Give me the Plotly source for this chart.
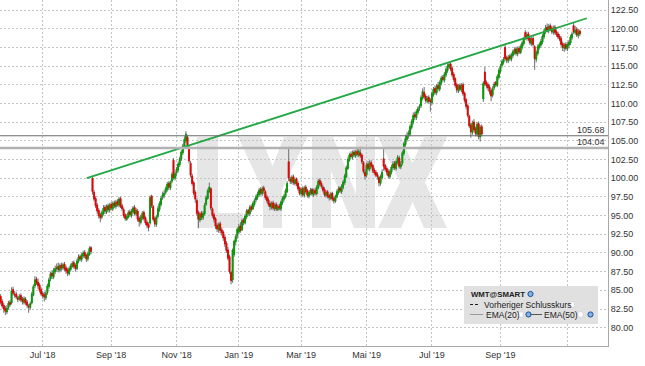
import plotly.graph_objects as go
import pandas as pd

# ---------------- data ----------------
start_date = "2018-05-23"
market_holidays = ["2018-05-28", "2018-07-04", "2018-09-03", "2018-11-22", "2018-12-05",
                   "2018-12-25", "2019-01-01", "2019-01-21", "2019-02-18", "2019-04-19",
                   "2019-05-27", "2019-07-04", "2019-09-02"]

open_ = [
    84.2, 83.5, 83.0, 82.6, 82.1, 82.7, 83.4, 83.3, 85.1, 84.5,
    84.5, 84.0, 83.8, 84.3, 83.8, 83.4, 83.8, 83.4, 82.9, 82.7,
    83.3, 84.4, 85.6, 86.5, 86.1, 85.7, 85.1, 84.6, 84.4, 84.0,
    84.7, 85.5, 86.5, 87.3, 86.8, 87.5, 87.9, 88.2, 87.7, 88.4,
    88.0, 88.5, 88.0, 87.7, 87.2, 87.8, 88.2, 88.7, 88.3, 87.9,
    88.9, 89.5, 89.1, 89.6, 90.1, 89.7, 89.2, 89.8, 90.7, 100.0,
    98.1, 97.3, 96.4, 95.7, 95.1, 94.8, 95.3, 96.1, 95.5, 96.3,
    95.7, 96.5, 95.9, 96.7, 96.2, 96.9, 96.4, 97.3, 96.3, 95.8,
    95.1, 94.5, 94.8, 95.5, 95.0, 95.5, 96.1, 95.2, 95.6, 94.6,
    94.1, 94.7, 95.4, 94.7, 94.1, 93.8, 94.0, 97.6, 96.2, 94.6,
    93.8, 94.9, 95.8, 96.5, 97.4, 97.7, 98.1, 98.5, 99.3, 98.7,
    99.6, 102.4, 100.0, 100.7, 101.1, 101.8, 102.6, 103.4, 104.2, 105.0,
    105.5, 104.0, 102.0, 100.3, 99.4, 98.1, 97.0, 95.4, 94.4, 95.3,
    94.7, 95.2, 96.5, 97.3, 98.2, 98.6, 95.9, 95.1, 94.6, 93.7,
    93.1, 93.9, 93.1, 92.8, 92.1, 91.3, 90.4, 89.5, 87.4, 86.4,
    89.8, 91.5, 92.3, 92.8, 93.6, 93.1, 94.4, 94.0, 94.8, 95.7,
    95.2, 96.2, 95.9, 96.5, 97.1, 97.4, 97.8, 98.5, 97.9, 98.7,
    98.2, 97.5, 97.1, 96.6, 96.1, 96.7, 95.9, 96.5, 95.8, 96.3,
    95.9, 96.7, 97.2, 97.5, 98.2, 102.2, 99.9, 99.5, 100.2, 99.3,
    99.9, 99.3, 98.7, 97.9, 98.6, 97.7, 98.8, 98.3, 97.6, 98.0,
    98.5, 97.8, 98.4, 97.9, 98.7, 99.7, 99.3, 98.8, 98.5, 97.7,
    98.2, 97.7, 97.3, 98.0, 97.3, 96.9, 97.5, 98.1, 98.7, 98.2,
    98.8, 99.4, 100.2, 101.3, 102.4, 103.2, 102.8, 103.5, 103.0, 103.6,
    103.1, 103.4, 103.1, 102.1, 100.8, 100.4, 101.9, 101.2, 102.1, 101.7,
    101.1, 100.8, 100.5, 100.1, 99.3, 100.1, 102.6, 101.7, 101.3, 100.9,
    100.2, 100.8, 101.4, 102.0, 101.3, 102.1, 102.7, 101.5, 102.0, 103.3,
    104.5, 105.2, 105.7, 105.9, 106.8, 107.5, 108.5, 108.1, 108.8, 109.4,
    109.7, 110.7, 111.5, 111.0, 110.3, 110.8, 110.4, 110.1, 111.2, 112.0,
    111.4, 112.4, 111.9, 112.7, 113.5, 113.1, 113.8, 114.4, 114.9, 115.3,
    114.7, 113.9, 113.3, 112.5, 111.7, 112.4, 111.8, 112.5, 111.4, 110.5,
    109.7, 108.3, 107.1, 106.1, 107.5, 106.6, 105.9, 107.3, 105.5, 106.9,
    110.6, 114.2, 112.8, 112.5, 112.2, 111.7, 111.1, 112.1, 112.8, 112.4,
    113.5, 114.3, 115.1, 115.5, 117.5, 116.1, 115.7, 116.3, 115.9, 116.4,
    116.8, 117.3, 116.6, 117.4, 116.8, 117.5, 118.0, 119.5, 118.7, 119.3,
    118.7, 118.0, 118.7, 117.6, 115.9, 116.7, 117.5, 117.8, 118.2, 118.9,
    119.6, 120.2, 119.7, 120.4, 120.1, 119.5, 120.2, 119.6, 119.3, 119.0,
    118.7, 118.0, 117.4, 117.9, 117.3, 117.8, 118.1, 118.8, 120.4, 119.5,
    119.9, 119.1, 119.7,
]

high = [
    84.5, 83.8, 83.3, 82.9, 83.0, 83.6, 83.7, 85.4, 85.5, 84.9,
    84.8, 84.3, 84.5, 84.6, 84.1, 84.2, 84.1, 83.7, 83.2, 83.5,
    84.8, 85.8, 86.9, 86.8, 86.6, 86.0, 85.4, 84.9, 84.8, 84.9,
    85.9, 86.7, 87.5, 87.7, 88.0, 88.3, 88.6, 88.7, 88.6, 88.7,
    88.7, 88.8, 88.3, 88.0, 88.2, 88.6, 88.9, 89.0, 88.6, 89.2,
    89.8, 89.8, 90.0, 90.3, 90.4, 89.9, 90.2, 90.9, 90.9, 100.2,
    98.4, 97.6, 96.7, 96.0, 95.4, 95.7, 96.4, 96.4, 96.5, 96.6,
    96.7, 96.8, 96.9, 97.0, 97.1, 97.2, 97.5, 97.5, 96.6, 96.1,
    95.3, 95.2, 95.7, 95.8, 95.9, 96.3, 96.4, 96.0, 95.9, 94.9,
    95.1, 95.6, 95.7, 94.9, 94.4, 94.1, 97.7, 97.8, 96.4, 94.9,
    95.1, 96.3, 96.9, 97.6, 98.2, 98.4, 98.9, 99.5, 99.6, 99.7,
    100.8, 102.7, 100.9, 101.5, 102.2, 102.9, 103.8, 104.6, 105.6, 106.3,
    105.8, 104.4, 102.3, 100.6, 99.7, 98.4, 97.3, 95.7, 95.5, 95.6,
    95.6, 96.7, 97.7, 98.6, 99.4, 98.8, 96.1, 95.4, 94.8, 94.0,
    94.1, 94.2, 93.4, 93.0, 92.4, 91.6, 90.8, 89.8, 87.6, 90.6,
    91.8, 92.5, 93.4, 93.9, 94.1, 94.6, 94.7, 95.2, 95.9, 95.9,
    96.4, 96.5, 96.9, 97.3, 97.8, 98.2, 98.7, 98.8, 98.9, 99.0,
    98.4, 97.8, 97.4, 96.9, 96.9, 97.0, 96.7, 96.8, 96.5, 96.6,
    97.0, 97.6, 97.9, 98.6, 99.6, 104.2, 100.2, 100.4, 100.5, 100.1,
    100.1, 99.6, 98.9, 98.8, 98.9, 99.0, 99.1, 98.6, 98.4, 98.7,
    98.7, 98.6, 98.7, 99.1, 99.9, 100.0, 99.6, 99.1, 98.8, 98.4,
    98.4, 97.9, 98.1, 98.2, 97.5, 97.8, 98.5, 98.9, 98.9, 99.2,
    99.8, 100.6, 101.7, 102.8, 103.4, 103.6, 103.7, 103.8, 103.8, 103.9,
    103.9, 104.2, 103.3, 102.3, 101.2, 102.1, 102.3, 102.4, 102.4, 101.9,
    101.4, 101.1, 100.8, 100.3, 100.5, 101.2, 104.0, 101.9, 101.6, 101.2,
    101.2, 101.8, 102.3, 102.3, 102.5, 103.1, 103.0, 102.3, 103.7, 104.9,
    105.8, 106.2, 106.4, 107.2, 107.9, 108.8, 108.9, 109.2, 109.6, 109.9,
    111.1, 112.0, 112.2, 111.3, 111.0, 111.1, 110.7, 111.6, 112.2, 112.4,
    112.6, 112.9, 113.1, 113.7, 113.8, 114.2, 114.8, 115.3, 115.5, 115.4,
    114.9, 114.2, 113.5, 112.8, 112.6, 112.7, 112.7, 112.8, 111.6, 110.7,
    109.9, 108.5, 107.4, 107.7, 107.9, 106.9, 107.5, 107.6, 107.1, 107.2,
    113.0, 114.9, 113.1, 112.8, 112.5, 112.0, 112.3, 112.9, 113.0, 113.9,
    114.7, 115.3, 115.9, 116.2, 117.9, 116.4, 116.5, 116.6, 116.8, 117.2,
    117.5, 117.6, 117.6, 117.7, 117.9, 118.4, 118.9, 119.8, 119.6, 119.6,
    119.0, 118.9, 119.1, 117.8, 117.1, 117.9, 118.2, 118.6, 119.3, 120.0,
    120.5, 120.7, 120.6, 120.7, 120.4, 120.4, 120.5, 119.9, 119.6, 119.3,
    119.0, 118.3, 118.1, 118.2, 118.2, 118.5, 119.2, 119.6, 120.9, 120.4,
    120.2, 120.0, 119.9,
]

low = [
    83.1, 82.6, 82.0, 81.7, 81.8, 82.4, 82.8, 83.1, 84.3, 84.0,
    83.8, 83.4, 83.6, 83.4, 83.1, 83.1, 83.0, 82.6, 82.0, 82.4,
    83.1, 84.2, 85.3, 85.7, 85.2, 84.7, 84.2, 83.9, 83.5, 83.7,
    84.4, 85.2, 86.2, 86.5, 86.5, 87.2, 87.5, 87.4, 87.4, 87.6,
    87.7, 87.6, 87.2, 86.9, 87.0, 87.5, 88.0, 87.9, 87.5, 87.7,
    88.6, 88.9, 88.8, 89.3, 89.3, 88.8, 88.9, 89.6, 89.8, 97.8,
    96.9, 96.0, 95.2, 94.6, 94.1, 94.5, 95.0, 95.2, 95.2, 95.4,
    95.4, 95.7, 95.6, 96.0, 95.9, 96.2, 96.1, 96.0, 95.6, 94.7,
    94.3, 94.3, 94.6, 94.8, 94.7, 95.2, 95.0, 94.9, 94.2, 93.5,
    93.8, 94.4, 94.3, 93.7, 93.3, 92.9, 93.8, 96.0, 94.2, 93.5,
    93.5, 94.6, 95.5, 96.2, 97.1, 97.3, 97.8, 98.2, 98.4, 98.4,
    99.3, 99.8, 99.7, 100.3, 100.8, 101.5, 102.3, 103.1, 103.9, 104.7,
    103.9, 102.0, 100.1, 99.0, 97.7, 96.7, 95.0, 93.3, 94.1, 94.4,
    94.4, 95.0, 96.3, 97.1, 98.0, 95.7, 94.7, 94.1, 93.2, 92.8,
    92.7, 92.6, 92.3, 91.6, 90.8, 90.0, 89.0, 87.2, 85.8, 86.0,
    89.5, 91.0, 91.9, 92.5, 92.7, 92.9, 93.7, 93.8, 94.5, 95.0,
    94.9, 95.5, 95.7, 96.2, 96.8, 97.1, 97.5, 97.7, 97.6, 97.9,
    97.1, 96.7, 96.2, 95.7, 95.8, 95.7, 95.6, 95.6, 95.6, 95.7,
    95.6, 96.4, 96.9, 97.3, 98.0, 99.6, 99.2, 99.2, 99.1, 99.0,
    98.9, 98.3, 97.7, 97.6, 97.5, 97.4, 97.9, 97.4, 97.3, 97.7,
    97.6, 97.5, 97.7, 97.7, 98.5, 98.9, 98.6, 98.1, 97.5, 97.4,
    97.3, 97.0, 97.1, 96.9, 96.6, 96.7, 97.3, 97.8, 98.0, 97.9,
    98.5, 99.1, 100.0, 101.1, 102.2, 102.6, 102.5, 102.8, 102.7, 102.9,
    102.8, 102.7, 101.9, 100.6, 99.8, 100.1, 101.0, 100.9, 101.3, 100.7,
    100.4, 100.1, 99.8, 98.9, 99.0, 99.8, 101.0, 100.9, 100.4, 100.0,
    99.9, 100.5, 101.1, 101.1, 101.0, 101.8, 101.3, 101.2, 101.7, 103.0,
    104.2, 104.9, 105.3, 105.6, 106.5, 107.2, 107.8, 107.8, 108.5, 109.0,
    109.4, 110.4, 110.6, 110.1, 110.0, 110.0, 108.9, 109.8, 110.9, 111.2,
    111.1, 111.7, 111.6, 112.4, 112.9, 112.8, 113.5, 114.1, 114.6, 114.3,
    113.5, 112.9, 112.1, 111.4, 111.4, 111.6, 111.5, 111.0, 110.1, 109.2,
    108.1, 106.7, 105.4, 105.8, 106.2, 105.6, 105.6, 105.2, 104.9, 105.6,
    110.2, 112.3, 112.0, 111.7, 111.2, 110.3, 110.8, 111.8, 112.2, 112.2,
    113.2, 114.0, 114.8, 115.2, 115.7, 115.4, 115.4, 115.7, 115.6, 116.1,
    116.5, 116.4, 116.3, 116.6, 116.6, 117.2, 117.7, 118.5, 118.4, 118.3,
    117.8, 117.7, 117.6, 114.5, 115.5, 116.4, 117.2, 117.5, 117.9, 118.6,
    119.3, 119.5, 119.4, 119.7, 119.3, 119.2, 119.2, 118.9, 118.6, 118.3,
    117.6, 117.0, 116.9, 117.1, 117.0, 117.4, 117.8, 118.5, 119.3, 119.2,
    118.9, 118.7, 119.0,
]

close = [
    83.4, 82.9, 82.5, 82.2, 82.6, 83.3, 83.1, 84.9, 84.6, 84.4,
    84.1, 83.8, 84.2, 83.7, 83.5, 83.9, 83.3, 83.0, 82.8, 83.2,
    84.5, 85.5, 86.4, 86.0, 85.6, 85.0, 84.5, 84.3, 84.1, 84.6,
    85.6, 86.4, 87.2, 86.9, 87.6, 87.9, 88.1, 87.8, 88.3, 88.0,
    88.4, 87.9, 87.6, 87.3, 87.9, 88.3, 88.6, 88.2, 87.9, 88.9,
    89.4, 89.2, 89.7, 90.0, 89.6, 89.2, 89.9, 90.6, 90.2, 98.2,
    97.2, 96.3, 95.6, 95.0, 94.7, 95.4, 96.0, 95.6, 96.2, 95.8,
    96.4, 96.0, 96.6, 96.3, 96.8, 96.5, 97.2, 96.2, 95.9, 95.0,
    94.6, 94.9, 95.4, 95.1, 95.6, 96.0, 95.3, 95.7, 94.5, 94.2,
    94.8, 95.3, 94.6, 94.0, 93.7, 93.4, 97.4, 96.3, 94.5, 93.9,
    94.8, 95.9, 96.6, 97.3, 97.8, 98.0, 98.6, 99.2, 98.8, 99.5,
    100.5, 100.1, 100.6, 101.2, 101.9, 102.6, 103.5, 104.3, 105.2, 105.9,
    104.2, 102.3, 100.4, 99.3, 98.0, 97.2, 95.3, 94.5, 95.2, 94.8,
    95.3, 96.4, 97.4, 98.3, 98.8, 96.0, 95.0, 94.5, 93.6, 93.2,
    93.8, 93.0, 92.7, 92.0, 91.2, 90.3, 89.3, 87.5, 86.3, 90.4,
    91.6, 92.2, 93.2, 93.5, 93.0, 94.3, 94.1, 94.9, 95.6, 95.3,
    96.1, 95.8, 96.6, 97.0, 97.5, 97.9, 98.4, 98.0, 98.6, 98.3,
    97.4, 97.0, 96.5, 96.2, 96.6, 96.0, 96.4, 95.9, 96.2, 96.0,
    96.8, 97.3, 97.6, 98.3, 99.3, 100.0, 99.6, 100.1, 99.4, 99.8,
    99.2, 98.6, 98.0, 98.5, 97.8, 98.7, 98.2, 97.7, 98.1, 98.4,
    97.9, 98.3, 98.0, 98.8, 99.6, 99.2, 98.9, 98.4, 97.8, 98.1,
    97.6, 97.4, 97.9, 97.2, 97.0, 97.6, 98.2, 98.6, 98.3, 98.9,
    99.5, 100.3, 101.4, 102.5, 103.1, 102.9, 103.4, 103.1, 103.5, 103.2,
    103.6, 103.0, 102.2, 100.9, 100.3, 101.8, 101.3, 102.0, 101.6, 101.0,
    100.7, 100.4, 100.2, 99.4, 100.2, 100.8, 101.6, 101.2, 100.8, 100.3,
    100.9, 101.5, 101.9, 101.4, 102.2, 102.8, 101.6, 101.9, 103.4, 104.6,
    105.3, 105.6, 106.0, 106.9, 107.6, 108.4, 108.2, 108.9, 109.3, 109.6,
    110.8, 111.6, 110.9, 110.4, 110.7, 110.3, 110.2, 111.3, 111.9, 111.5,
    112.3, 112.0, 112.8, 113.4, 113.2, 113.9, 114.5, 115.0, 115.2, 114.6,
    113.8, 113.2, 112.4, 111.8, 112.3, 111.9, 112.4, 111.3, 110.4, 109.6,
    108.4, 107.0, 106.2, 107.4, 106.5, 106.0, 107.2, 105.6, 106.8, 105.9,
    112.7, 112.6, 112.4, 112.1, 111.6, 111.0, 112.0, 112.6, 112.5, 113.6,
    114.4, 115.0, 115.6, 115.9, 116.0, 115.8, 116.2, 116.0, 116.5, 116.9,
    117.2, 116.7, 117.3, 116.9, 117.6, 118.1, 118.6, 118.8, 119.2, 118.6,
    118.1, 118.6, 117.9, 116.0, 116.8, 117.6, 117.9, 118.3, 119.0, 119.7,
    120.1, 119.8, 120.3, 120.0, 119.6, 120.1, 119.5, 119.2, 118.9, 118.6,
    117.9, 117.5, 117.8, 117.4, 117.9, 118.2, 118.9, 119.3, 119.6, 119.8,
    119.2, 119.6, 119.3,
]

tick_months = ["2018-07", "2018-09", "2018-11", "2019-01", "2019-03",
               "2019-05", "2019-07", "2019-09", "2019-11"]
tick_labels = ["Jul '18", "Sep '18", "Nov '18", "Jan '19", "Mar '19",
               "Mai '19", "Jul '19", "Sep '19", ""]
price_ticks = [80.0, 82.5, 85.0, 87.5, 90.0, 92.5, 95.0, 97.5, 100.0, 102.5,
               105.0, 107.5, 110.0, 112.5, 115.0, 117.5, 120.0, 122.5]
level_values = [105.68, 104.04]
trend_pos = [55.3, 376.5]          # trading-day positions of the trend line ends
trend_price = [100.0, 121.4]

# ---------------- build ----------------
n = len(close)
dates = pd.bdate_range(start_date, periods=n, freq="C", holidays=market_holidays)
xs = list(range(n))
month_of = dates.strftime("%Y-%m")
tickvals = [int((month_of == m).argmax()) for m in tick_months]

GREEN = "#00a000"
RED = "#f00000"
WICK = "#6e6e6e"

fig = go.Figure()

# wicks (grey candles)
fig.add_trace(go.Candlestick(
    x=xs, open=open_, high=high, low=low, close=close,
    increasing=dict(line=dict(color=WICK, width=1), fillcolor=WICK),
    decreasing=dict(line=dict(color=WICK, width=1), fillcolor=WICK),
    whiskerwidth=0, hoverinfo="skip", showlegend=False,
))
# coloured bodies (candles limited to the open/close range)
body_top = [max(o, c) for o, c in zip(open_, close)]
body_bot = [min(o, c) for o, c in zip(open_, close)]
fig.add_trace(go.Candlestick(
    x=xs, open=open_, high=body_top, low=body_bot, close=close,
    increasing=dict(line=dict(color=GREEN, width=1), fillcolor=GREEN),
    decreasing=dict(line=dict(color=RED, width=1), fillcolor=RED),
    whiskerwidth=0, hoverinfo="skip", showlegend=False,
))
# trend line
fig.add_trace(go.Scatter(
    x=trend_pos, y=trend_price, mode="lines",
    line=dict(color="#22a845", width=1.8), hoverinfo="skip", showlegend=False,
))

PW, PH = 608.0, 346.0


def X(px):
    return px / PW


def Y(py):
    return 1 - py / PH


shapes = []

# LYNX watermark (pixel outlines -> paper coords)
letters = [
    [(197, 137), (218, 137), (218, 213), (243, 213), (243, 228), (197, 228)],
    [(238, 137), (261, 137), (272.5, 166), (284, 137), (307, 137), (282, 190),
     (282, 228), (263, 228), (263, 190)],
    [(312, 228), (312, 137), (333, 137), (356, 194), (356, 137), (375, 137),
     (375, 228), (354, 228), (331, 171), (331, 228)],
    [(378, 137), (401, 137), (412.5, 163), (424, 137), (447, 137), (425, 182.5),
     (447, 228), (424, 228), (412.5, 202), (401, 228), (378, 228), (400, 182.5)],
]
for pts in letters:
    path = "M " + " L ".join(f"{X(a):.5f},{Y(b):.5f}" for a, b in pts) + " Z"
    shapes.append(dict(type="path", path=path, xref="paper", yref="paper",
                       fillcolor="#e6e6e6", line=dict(width=0), layer="below"))

# horizontal levels
shapes.append(dict(type="line", xref="paper", yref="y", x0=0, x1=1,
                   y0=level_values[0], y1=level_values[0],
                   line=dict(color="#6a6a6a", width=1.2), layer="above"))
shapes.append(dict(type="line", xref="paper", yref="y", x0=0, x1=1,
                   y0=level_values[1], y1=level_values[1],
                   line=dict(color="#b2b2b2", width=2.4), layer="above"))

# legend box
shapes.append(dict(type="rect", xref="paper", yref="paper",
                   x0=X(464), x1=X(598), y0=Y(324), y1=Y(286),
                   fillcolor="#e0e0e0", line=dict(width=0), layer="above"))


def icon(cx, cy):
    shapes.append(dict(type="circle", xref="paper", yref="paper",
                       x0=X(cx - 2.6), x1=X(cx + 2.6), y0=Y(cy + 2.6), y1=Y(cy - 2.6),
                       fillcolor="#7fb2e5", line=dict(color="#1e4f9c", width=1), layer="above"))


def wbox(x0, cy):
    shapes.append(dict(type="rect", xref="paper", yref="paper",
                       x0=X(x0), x1=X(x0 + 5), y0=Y(cy + 2.5), y1=Y(cy - 2.5),
                       fillcolor="#ffffff", line=dict(color="#d0d0d0", width=0.6), layer="above"))


icon(530.5, 294)
shapes.append(dict(type="line", xref="paper", yref="paper", x0=X(470), x1=X(480),
                   y0=Y(304.5), y1=Y(304.5),
                   line=dict(color="#222222", width=1.2, dash="3px,2px"), layer="above"))
wbox(569.5, 304.5)
shapes.append(dict(type="line", xref="paper", yref="paper", x0=X(470), x1=X(483),
                   y0=Y(314.5), y1=Y(314.5), line=dict(color="#9a9a9a", width=1), layer="above"))
wbox(518, 314.5)
icon(528.5, 314.5)
shapes.append(dict(type="line", xref="paper", yref="paper", x0=X(530.5), x1=X(542),
                   y0=Y(314.5), y1=Y(314.5), line=dict(color="#555555", width=1), layer="above"))
wbox(578, 314.5)
icon(590.5, 314.5)

FONT = "Arial, Liberation Sans, sans-serif"
annotations = []
for val in level_values:
    annotations.append(dict(x=1, y=val, xref="paper", yref="y", text=f"{val:.2f}",
                            xanchor="right", yanchor="bottom", showarrow=False,
                            xshift=-1, yshift=-1,
                            font=dict(family=FONT, size=9, color="#333333")))


def label(px, py, txt, bold=False, size=8.5):
    annotations.append(dict(x=X(px), y=Y(py), xref="paper", yref="paper",
                            text=f"<b>{txt}</b>" if bold else txt,
                            xanchor="left", yanchor="middle", showarrow=False,
                            font=dict(family=FONT, size=size, color="#222222")))


label(469, 294, "WMT@SMART", bold=True, size=7.8)
label(482, 304.5, "Vorheriger Schlusskurs")
label(484, 314.5, "EMA(20)")
label(542, 314.5, "EMA(50)")

fig.update_layout(
    width=645, height=366,
    margin=dict(l=0, r=37, t=0, b=20),
    paper_bgcolor="white", plot_bgcolor="white",
    showlegend=False, shapes=shapes, annotations=annotations,
    hovermode=False,
    font=dict(family=FONT, size=9, color="#333333"),
)
fig.update_xaxes(
    range=[-0.43, 390.1], rangeslider_visible=False,
    tickmode="array", tickvals=tickvals, ticktext=tick_labels,
    showgrid=True, gridcolor="#c4c4c4", gridwidth=1, griddash="2px,2px",
    showline=True, linecolor="#a8a8a8", linewidth=1, mirror=True,
    ticks="", zeroline=False, tickfont=dict(size=9, color="#333333"),
)
fig.update_yaxes(
    range=[77.55, 123.84], side="right",
    tickmode="array", tickvals=price_ticks, ticktext=[f"{v:.2f}" for v in price_ticks],
    showgrid=True, gridcolor="#c4c4c4", gridwidth=1, griddash="2px,2px",
    showline=True, linecolor="#a8a8a8", linewidth=1, mirror=True,
    ticks="", zeroline=False, tickfont=dict(size=9, color="#333333"),
)

fig.write_html("out.html")
